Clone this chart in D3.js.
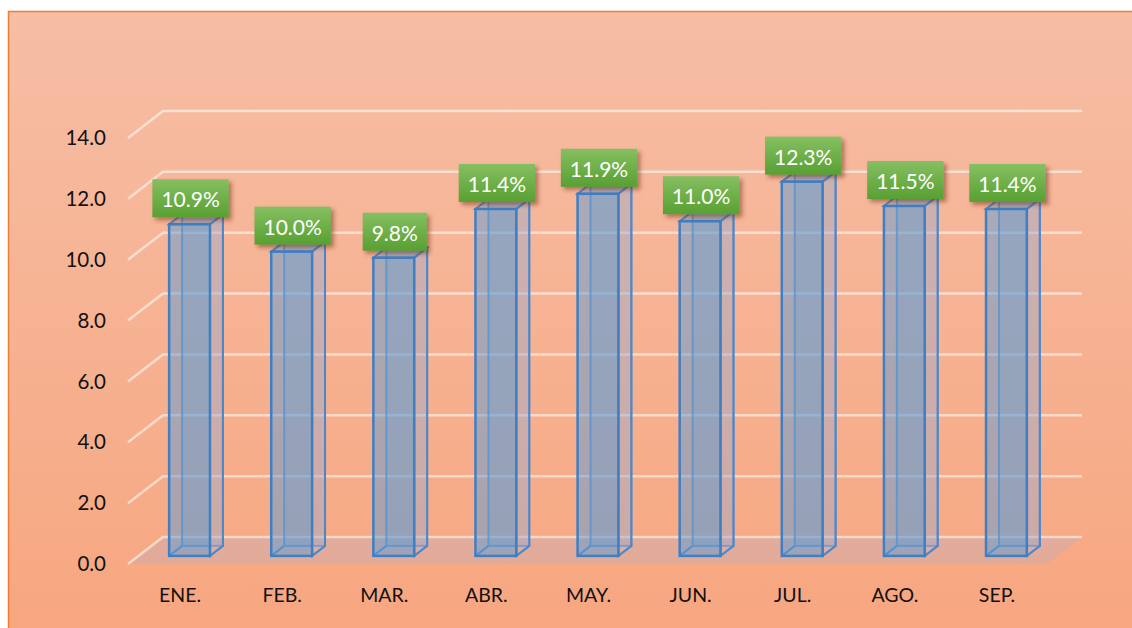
<!DOCTYPE html>
<html lang="es">
<meta charset="utf-8">
<style>
  body { margin: 0; background: #fff; }
  text { font-family: Lato, "Open Sans", sans-serif; }
</style>
<body>
<svg width="1132" height="628"></svg>
<script src="https://cdnjs.cloudflare.com/ajax/libs/d3/7.8.5/d3.min.js"></script>
<script>
const months = ['ENE.', 'FEB.', 'MAR.', 'ABR.', 'MAY.', 'JUN.', 'JUL.', 'AGO.', 'SEP.']
const values = [10.9, 10.0, 9.8, 11.4, 11.9, 11.0, 12.3, 11.5, 11.4]
const yTicks = [0, 2, 4, 6, 8, 10, 12, 14]

// depth of the 3d floor (back plane offset)
const DX = 35, DY = -27
const svg = d3.select('svg')
const defs = svg.append('defs')

let bg = defs.append('linearGradient').attr('id', 'bg')
  .attr('x1', 0).attr('y1', 0).attr('x2', 0).attr('y2', 1)
bg.append('stop').attr('offset', 0).attr('stop-color', '#f6bea5')
bg.append('stop').attr('offset', 1).attr('stop-color', '#f7a67f')

let lg = defs.append('linearGradient').attr('id', 'lbl')
  .attr('x1', 0).attr('y1', 0).attr('x2', 0).attr('y2', 1)
lg.append('stop').attr('offset', 0).attr('stop-color', '#86bf62')
lg.append('stop').attr('offset', 1).attr('stop-color', '#58a032')

let sh = defs.append('filter').attr('id', 'shadow')
  .attr('x', '-20%').attr('y', '-20%').attr('width', '150%').attr('height', '160%')
sh.append('feDropShadow').attr('dx', 3).attr('dy', 3).attr('stdDeviation', 2)
  .attr('flood-color', '#6b2a10').attr('flood-opacity', 0.5)

// chart area
svg.append('rect').attr('x', 8.5).attr('y', 11.5).attr('width', 1140).attr('height', 630)
  .attr('fill', 'url(#bg)').attr('stroke', '#ed7d31').attr('stroke-width', 1.5)

let x = d3.scaleBand().domain(months).range([128, 1047]).paddingInner(0.6).paddingOuter(0.3)
let y = d3.scaleLinear().domain([0, 14]).range([564, 138])

// floor
svg.append('polygon')
  .attr('points', [[128, y(0)], [128 + DX, y(0) + DY], [1047 + DX, y(0) + DY], [1047, y(0)]].join(' '))
  .attr('fill', 'rgba(195,172,185,0.4)')

// gridlines (left wall edge + back wall)
svg.append('g').selectAll('path').data(yTicks).enter().append('path')
  .attr('d', d => `M128,${y(d)}L${128 + DX},${y(d) + DY}H${1047 + DX}`)
  .attr('fill', 'none').attr('stroke', 'rgba(255,255,255,0.55)').attr('stroke-width', 2.5)

// y axis labels
svg.append('g').selectAll('text').data(yTicks).enter().append('text')
  .attr('x', 106).attr('y', d => y(d)).attr('dy', '0.35em')
  .attr('text-anchor', 'end').attr('font-size', 20.5).attr('fill', '#111')
  .text(d => d.toFixed(1))

// x axis labels
svg.append('g').selectAll('text').data(months).enter().append('text')
  .attr('x', d => x(d) + x.bandwidth() / 2 + 1).attr('y', 602)
  .attr('text-anchor', 'middle').attr('font-size', 19.5).attr('fill', '#111')
  .text(d => d)

// 3d bars, placed in the middle of the floor depth
const f0 = 0.3, f1 = 0.67
let bars = svg.append('g').selectAll('g').data(values).enter().append('g')
  .attr('transform', `translate(${DX * f0},${DY * f0})`)

bars.each(function (d, i) {
  let g = d3.select(this)
  let x0 = x(months[i]), w = x.bandwidth()
  let yb = y(0), yt = y(d)
  let ox = DX * (f1 - f0), oy = DY * (f1 - f0)
  let edge = '#4a88cc'
  // back face
  g.append('rect').attr('x', x0 + ox).attr('y', yt + oy).attr('width', w).attr('height', yb - yt)
    .attr('fill', 'rgba(91,155,213,0.25)').attr('stroke', edge).attr('stroke-opacity', 0.75).attr('stroke-width', 2)
  // right side
  g.append('polygon')
    .attr('points', [[x0 + w, yb], [x0 + w + ox, yb + oy], [x0 + w + ox, yt + oy], [x0 + w, yt]].join(' '))
    .attr('fill', 'rgba(200,180,200,0.3)').attr('stroke', edge).attr('stroke-width', 2)
  // top
  g.append('polygon')
    .attr('points', [[x0, yt], [x0 + ox, yt + oy], [x0 + w + ox, yt + oy], [x0 + w, yt]].join(' '))
    .attr('fill', 'rgba(91,155,213,0.35)').attr('stroke', edge).attr('stroke-width', 2)
  // bottom edges
  g.append('path').attr('d', `M${x0},${yb}L${x0 + ox},${yb + oy}`)
    .attr('stroke', edge).attr('stroke-width', 2)
  // front face
  g.append('rect').attr('x', x0).attr('y', yt).attr('width', w).attr('height', yb - yt)
    .attr('fill', 'rgba(91,155,213,0.5)').attr('stroke', '#3f7fc4').attr('stroke-width', 2.5)
})

// data labels
let labels = svg.append('g').selectAll('g').data(values).enter().append('g')
labels.each(function (d, i) {
  let g = d3.select(this)
  let cx = x(months[i]) + x.bandwidth() / 2 + DX * f0 + 1
  let yt = y(d) + DY * f0
  let t = g.append('text').attr('x', cx).attr('y', yt - 20)
    .attr('text-anchor', 'middle').attr('font-size', 21).attr('fill', '#fff')
    .text(d.toFixed(1) + '%')
  let tw = t.node().getComputedTextLength()
  g.insert('rect', 'text').attr('x', cx - tw / 2 - 9).attr('y', yt - 45)
    .attr('width', tw + 18).attr('height', 38)
    .attr('fill', 'url(#lbl)').attr('filter', 'url(#shadow)')
  t.attr('dy', '0.15em')
})
</script>
</body>
</html>
